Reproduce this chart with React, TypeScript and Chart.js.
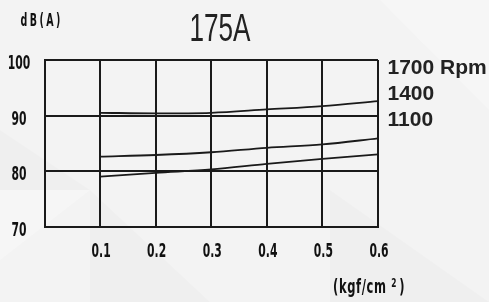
import React, { useEffect, useRef } from 'react';
import { Chart, registerables } from 'chart.js';

Chart.register(...registerables);

const chartTitle = '175A';
const yUnit = 'dB(A)';
const xUnitMain = '(kgf/cm ';
const xUnitSup = '2';
const xUnitEnd = ')';

const pressures = [0.1, 0.2, 0.3, 0.4, 0.5, 0.6];
const xTickLabels = ['0.1', '0.2', '0.3', '0.4', '0.5', '0.6'];
const yTickValues = [70, 80, 90, 100];
const yTickLabels = ['70', '80', '90', '100'];

const seriesLabels = ['1700 Rpm', '1400', '1100'];
const rpm1700 = [90.5, 90.4, 90.5, 91.1, 91.7, 92.6];
const rpm1400 = [82.6, 82.9, 83.4, 84.2, 84.8, 85.9];
const rpm1100 = [79.0, 79.7, 80.3, 81.3, 82.2, 83.0];

const COND = '"DejaVu Sans Condensed", "DejaVu Sans", sans-serif';
const ARIAL = '"Liberation Sans", Arial, sans-serif';

// draws text horizontally squeezed by factor sx; align relative to anchor x
function drawSqueezed(ctx: any, text: string, x: number, y: number, sx: number, align: 'left' | 'center' | 'right') {
  ctx.save();
  ctx.translate(x, y);
  ctx.scale(sx, 1);
  ctx.textAlign = align;
  ctx.textBaseline = 'alphabetic';
  ctx.fillText(text, 0, 0);
  ctx.restore();
}

const decorPlugin = {
  id: 'decor',
  beforeDraw(chart: any) {
    const ctx = chart.ctx;
    const w = chart.width;
    const h = chart.height;
    ctx.save();
    ctx.fillStyle = '#f3f3f3';
    ctx.fillRect(0, 0, w, h);
    ctx.fillStyle = 'rgba(0,0,0,0.015)';
    ctx.beginPath();
    ctx.moveTo(0, 130); ctx.lineTo(90, 190); ctx.lineTo(0, 190); ctx.closePath();
    ctx.fill();
    ctx.beginPath();
    ctx.moveTo(90, 190); ctx.lineTo(210, 302); ctx.lineTo(90, 302); ctx.closePath();
    ctx.fill();
    ctx.beginPath();
    ctx.moveTo(330, 190); ctx.lineTo(489, 302); ctx.lineTo(330, 302); ctx.closePath();
    ctx.fill();
    ctx.fillStyle = 'rgba(255,255,255,0.25)';
    ctx.beginPath();
    ctx.moveTo(380, 0); ctx.lineTo(489, 0); ctx.lineTo(489, 110); ctx.closePath();
    ctx.fill();
    ctx.beginPath();
    ctx.moveTo(0, 190); ctx.lineTo(90, 190); ctx.lineTo(0, 260); ctx.closePath();
    ctx.fill();
    ctx.restore();
  },
  afterDraw(chart: any) {
    const ctx = chart.ctx;
    const xs = chart.scales.x;
    const ys = chart.scales.y;
    ctx.save();

    // tick labels (condensed)
    ctx.fillStyle = '#111';
    ctx.font = `bold 20px ${COND}`;
    yTickValues.forEach((v, i) => {
      drawSqueezed(ctx, yTickLabels[i], 19, ys.getPixelForValue(v) + 9, 0.6, 'center');
    });
    pressures.forEach((v, i) => {
      drawSqueezed(ctx, xTickLabels[i], xs.getPixelForValue(v) + 1, 256.7, 0.6, 'center');
    });

    // title
    ctx.fillStyle = '#222';
    ctx.font = `39px ${ARIAL}`;
    drawSqueezed(ctx, chartTitle, 220, 40.7, 0.67, 'center');

    // y unit
    ctx.fillStyle = '#111';
    ctx.font = `bold 17px ${COND}`;
    (ctx as any).letterSpacing = '4px';
    drawSqueezed(ctx, yUnit, 20.5, 25.5, 0.62, 'left');
    (ctx as any).letterSpacing = '0px';

    // x unit
    const sx = 0.64;
    ctx.font = `bold 20px ${COND}`;
    (ctx as any).letterSpacing = '1px';
    let x = 333;
    drawSqueezed(ctx, xUnitMain, x, 293, sx, 'left');
    x += ctx.measureText(xUnitMain).width * sx;
    ctx.font = `bold 13px ${COND}`;
    drawSqueezed(ctx, xUnitSup, x, 286.5, sx, 'left');
    x += ctx.measureText(xUnitSup).width * sx + 2;
    ctx.font = `bold 20px ${COND}`;
    drawSqueezed(ctx, xUnitEnd, x, 293, sx, 'left');
    (ctx as any).letterSpacing = '0px';

    // series labels on the right
    ctx.font = `bold 21px ${ARIAL}`;
    ctx.fillStyle = '#222';
    ctx.textAlign = 'left';
    ctx.textBaseline = 'alphabetic';
    const baselines = [74, 100, 126];
    chart.data.datasets.forEach((ds: any, i: number) => {
      ctx.fillText(ds.label, 387.5, baselines[i]);
    });
    ctx.restore();
  },
};

export default function App() {
  const ref = useRef<HTMLCanvasElement | null>(null);

  useEffect(() => {
    document.body.style.margin = '0';
    const canvas = ref.current;
    if (!canvas) return;
    const lineStyle = {
      borderColor: '#1a1a1a',
      borderWidth: 1.8,
      pointRadius: 0,
      fill: false,
      cubicInterpolationMode: 'monotone' as const,
    };
    const toPoints = (vals: number[]) => vals.map((y, i) => ({ x: pressures[i], y }));
    const chart = new Chart(canvas, {
      type: 'line',
      data: {
        datasets: [
          { label: seriesLabels[0], data: toPoints(rpm1700), ...lineStyle },
          { label: seriesLabels[1], data: toPoints(rpm1400), ...lineStyle },
          { label: seriesLabels[2], data: toPoints(rpm1100), ...lineStyle },
        ],
      },
      options: {
        responsive: false,
        animation: false,
        devicePixelRatio: 1,
        layout: { padding: { top: 60, right: 111, left: 0, bottom: 0 } },
        plugins: {
          legend: { display: false },
          title: { display: false },
          tooltip: { enabled: false },
        },
        scales: {
          x: {
            type: 'linear',
            min: 0,
            max: 0.6,
            afterFit: (s: any) => { s.height = 75.3; },
            afterBuildTicks: (s: any) => {
              s.ticks = [0, ...pressures].map((v) => ({ value: v }));
            },
            ticks: { display: false },
            grid: { color: '#1a1a1a', lineWidth: 2, drawTicks: false },
            border: { display: true, color: '#1a1a1a', width: 2 },
          },
          y: {
            type: 'linear',
            min: 70,
            max: 100,
            afterFit: (s: any) => { s.width = 44.5; },
            afterBuildTicks: (s: any) => {
              s.ticks = yTickValues.map((v) => ({ value: v }));
            },
            ticks: { display: false },
            grid: { color: '#1a1a1a', lineWidth: 2, drawTicks: false },
            border: { display: true, color: '#1a1a1a', width: 2 },
          },
        },
      },
      plugins: [decorPlugin],
    });
    return () => chart.destroy();
  }, []);

  return (
    <div style={{ position: 'fixed', left: 0, top: 0, width: 489, height: 302 }}>
      <canvas ref={ref} width={489} height={302} style={{ display: 'block' }} />
    </div>
  );
}
